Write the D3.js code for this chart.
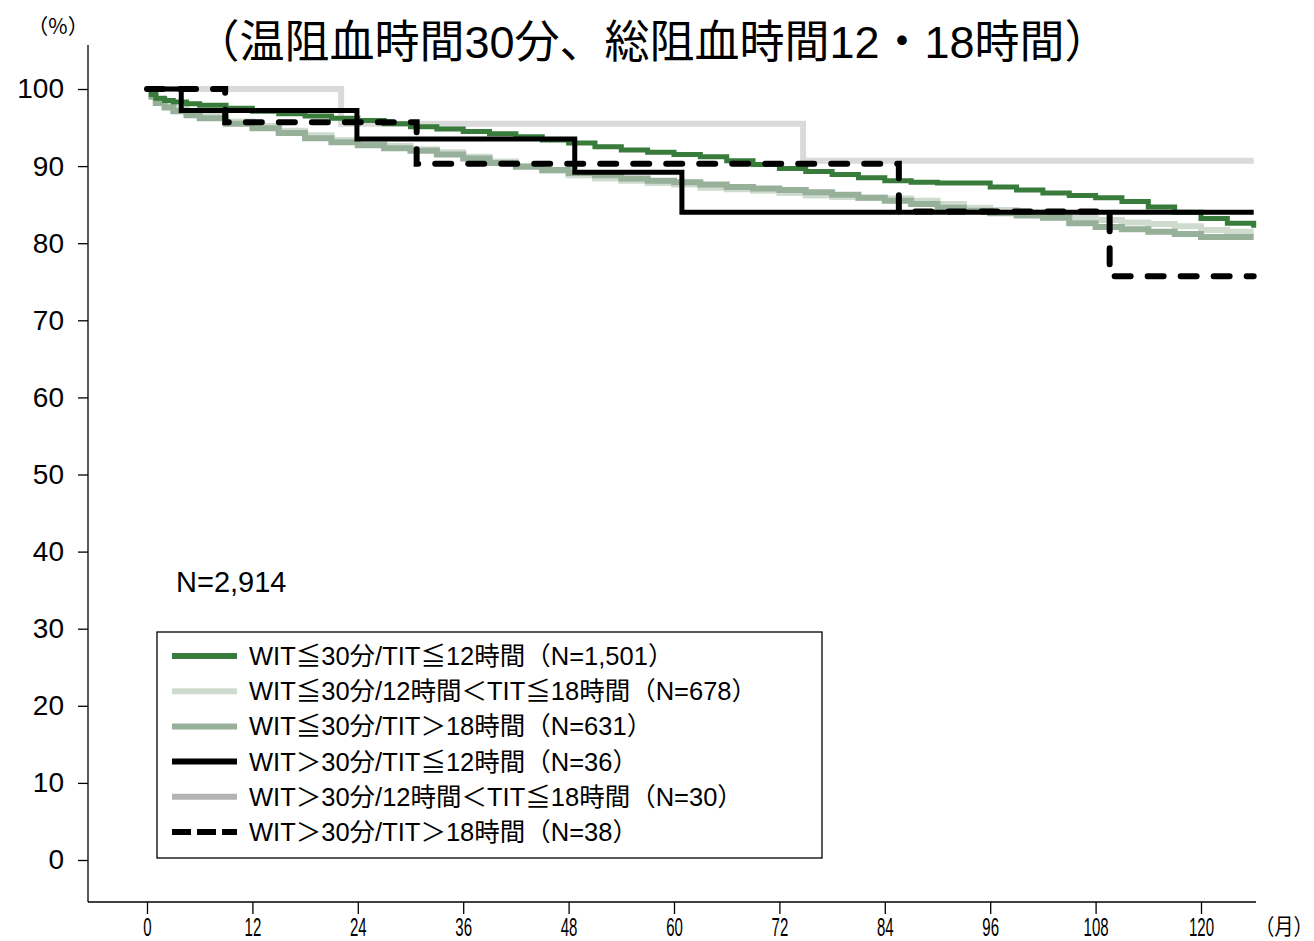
<!DOCTYPE html>
<html>
<head>
<meta charset="utf-8">
<script src="https://cdn.jsdelivr.net/npm/d3@7"></script>
<style>
  html, body { margin: 0; padding: 0; background: #fff; }
  svg { display: block; }
  text { font-family: "Liberation Sans", Arial, "Noto Sans CJK JP", sans-serif; fill: #000; }
</style>
</head>
<body>
<svg id="chart" width="1314" height="941"></svg>
<script>
// ---------------- DATA ----------------
const titleText = "（温阻血時間30分、総阻血時間12・18時間）";
const yUnit = "（%）";
const xUnit = "（月）";
const totalN = "N=2,914";
const xTicks = [0, 12, 24, 36, 48, 60, 72, 84, 96, 108, 120];
const yTicks = [0, 10, 20, 30, 40, 50, 60, 70, 80, 90, 100];

const seriesNames = [
  "WIT≦30分/TIT≦12時間（N=1,501）",
  "WIT≦30分/12時間＜TIT≦18時間（N=678）",
  "WIT≦30分/TIT＞18時間（N=631）",
  "WIT＞30分/TIT≦12時間（N=36）",
  "WIT＞30分/12時間＜TIT≦18時間（N=30）",
  "WIT＞30分/TIT＞18時間（N=38）"
];

// shared month grid for the three large groups
const gridMonths = [0, 0.5, 1, 2, 3, 4.5, 6, 9, 12, 15, 18, 21, 24, 27, 30, 33, 36, 39, 42, 45, 48,
  51, 54, 57, 60, 63, 66, 69, 72, 75, 78, 81, 84, 87, 90, 93, 96, 99, 102, 105, 108, 111, 114,
  117, 120, 123, 126];
const survGreen = [100, 99.3, 98.8, 98.5, 98.3, 98.1, 97.9, 97.5, 97.1, 96.8, 96.5, 96.2, 95.9, 95.5,
  95.1, 94.8, 94.5, 94.2, 93.8, 93.4, 93.0, 92.5, 92.1, 91.8, 91.5, 91.2, 90.7, 90.2, 89.7, 89.3,
  88.9, 88.5, 88.1, 87.9, 87.8, 87.8, 87.3, 86.9, 86.5, 86.2, 85.9, 85.4, 84.7, 84.0, 83.2, 82.6, 82.0];
const survLight = [100, 99.3, 98.6, 98.0, 97.5, 96.9, 96.5, 95.8, 95.2, 94.6, 94.0, 93.4, 93.0, 92.6,
  92.2, 91.8, 91.2, 90.6, 90.0, 89.4, 88.8, 88.4, 88.1, 87.8, 87.6, 87.2, 87.0, 86.8, 86.5, 86.2,
  86.0, 85.9, 85.8, 85.5, 85.1, 84.6, 84.3, 84.0, 83.6, 83.3, 83.0, 82.7, 82.5, 82.2, 81.7, 81.5, 81.5];
const survMid = [100, 99.0, 98.2, 97.6, 97.1, 96.6, 96.2, 95.5, 94.9, 94.3, 93.6, 93.1, 92.7, 92.3,
  92.0, 91.5, 91.0, 90.4, 89.9, 89.5, 89.1, 88.8, 88.4, 88.1, 87.9, 87.6, 87.3, 87.1, 86.9, 86.6,
  86.3, 85.9, 85.5, 85.1, 84.6, 84.2, 83.9, 83.6, 83.3, 82.6, 82.1, 81.8, 81.5, 81.2, 80.8, 80.8, 80.8];

// small groups: event times and survival
const blackMonths = [0, 3.9, 23.9, 48.7, 60.9, 126];
const blackSurv   = [100, 97.2, 93.5, 89.2, 84.0, 84.0];
const grayMonths  = [0, 22.1, 74.7, 126];
const graySurv    = [100, 95.5, 90.7, 90.7];
const dashMonths  = [0, 8.9, 30.7, 85.6, 109.6, 126];
const dashSurv    = [100, 95.7, 90.3, 84.1, 75.7, 75.7];

// ---------------- STYLE ----------------
const styles = [
  { color: "#387b3b", legendColor: "#387b3b", width: 5, dash: null },
  { color: "#d0dbd0", legendColor: "#d0dbd0", width: 6, dash: null },
  { color: "#97b09a", legendColor: "#97b09a", width: 6, dash: null },
  { color: "#000000", legendColor: "#000000", width: 5, dash: null },
  { color: "#dadada", legendColor: "#b3b3b3", width: 6, dash: null },
  { color: "#000000", legendColor: "#000000", width: 6, dash: "16,17" }
];

const series = [
  { months: gridMonths, surv: survGreen },
  { months: gridMonths, surv: survLight },
  { months: gridMonths, surv: survMid },
  { months: blackMonths, surv: blackSurv },
  { months: grayMonths, surv: graySurv },
  { months: dashMonths, surv: dashSurv }
];

// ---------------- CHART ----------------
const svg = d3.select("#chart");
const x = d3.scaleLinear().domain([0, 120]).range([147, 1201]);
const y = d3.scaleLinear().domain([0, 100]).range([860, 89]);
const axisLeftX = 88, axisBottomY = 902, axisTopY = 45, axisRightX = 1256;

// title
svg.append("text").attr("x", 652).attr("y", 58).attr("text-anchor", "middle")
  .style("font-size", "45px").style("font-family", "'Liberation Sans', 'Noto Sans CJK JP', sans-serif")
  .text(titleText);

// axes lines
svg.append("line").attr("x1", axisLeftX).attr("x2", axisLeftX).attr("y1", axisTopY).attr("y2", axisBottomY)
  .attr("stroke", "#000").attr("stroke-width", 1.3);
svg.append("line").attr("x1", axisLeftX).attr("x2", axisRightX).attr("y1", axisBottomY).attr("y2", axisBottomY)
  .attr("stroke", "#000").attr("stroke-width", 1.3);

// y axis
const yAxis = svg.append("g").attr("transform", `translate(${axisLeftX},0)`)
  .call(d3.axisLeft(y).tickValues(yTicks).tickSize(10).tickPadding(14));
yAxis.select(".domain").remove();
yAxis.selectAll("line").attr("stroke", "#000").attr("stroke-width", 1.3);
yAxis.selectAll("text").style("font-size", "28px").style("font-family", "'Liberation Sans', Arial, sans-serif");

svg.append("text").attr("x", 58).attr("y", 34).attr("text-anchor", "middle")
  .style("font-size", "21px").style("font-family", "'Noto Sans CJK JP', sans-serif").text(yUnit);

// x axis
const xAxis = svg.append("g").attr("transform", `translate(0,${axisBottomY})`)
  .call(d3.axisBottom(x).tickValues(xTicks).tickSize(12).tickPadding(0));
xAxis.select(".domain").remove();
xAxis.selectAll("line").attr("stroke", "#000").attr("stroke-width", 1.3);
xAxis.selectAll("text")
  .attr("dy", null).attr("y", 34)
  .attr("transform", "scale(0.6,1)")
  .style("font-size", "25px").style("font-family", "'Liberation Sans', Arial, sans-serif");

svg.append("text").attr("x", 1313).attr("y", 934).attr("text-anchor", "end")
  .attr("transform", "translate(1313,0) scale(0.88,1) translate(-1313,0)")
  .style("font-size", "22px").style("font-family", "'Noto Sans CJK JP', sans-serif").text(xUnit);

// curves
const drawOrder = [4, 1, 2, 0, 3, 5];
const line = d3.line().curve(d3.curveStepAfter)
  .x(d => x(d[0])).y(d => y(d[1]));
const plot = svg.append("g");
drawOrder.forEach(i => {
  const s = series[i], st = styles[i];
  const pts = s.months.map((m, k) => [m, s.surv[k]]);
  const p = plot.append("path").datum(pts).attr("d", line)
    .attr("fill", "none").attr("stroke", st.color).attr("stroke-width", st.width)
    .attr("stroke-linejoin", "miter");
  if (st.dash) p.attr("stroke-dasharray", st.dash).attr("stroke-linecap", "round");
  else p.attr("stroke-linecap", "butt");
});

// N text
svg.append("text").attr("x", 176).attr("y", 592)
  .style("font-size", "29px").style("font-family", "'Liberation Sans', Arial, sans-serif").text(totalN);

// legend
const lg = svg.append("g");
lg.append("rect").attr("x", 157).attr("y", 632).attr("width", 665).attr("height", 226)
  .attr("fill", "#fff").attr("stroke", "#000").attr("stroke-width", 1.3);
const rowY = d3.scaleLinear().domain([0, 5]).range([656, 832]);
seriesNames.forEach((name, i) => {
  const st = styles[i];
  const ly = rowY(i);
  const l = lg.append("line").attr("x1", 172).attr("x2", 237).attr("y1", ly).attr("y2", ly)
    .attr("stroke", st.legendColor).attr("stroke-width", 6);
  if (st.dash) l.attr("stroke-dasharray", "19,6");
  lg.append("text").attr("x", 249).attr("y", ly + 9)
    .style("font-size", "25.5px").style("font-family", "'Liberation Sans', 'Noto Sans CJK JP', sans-serif")
    .text(name);
});
</script>
</body>
</html>
